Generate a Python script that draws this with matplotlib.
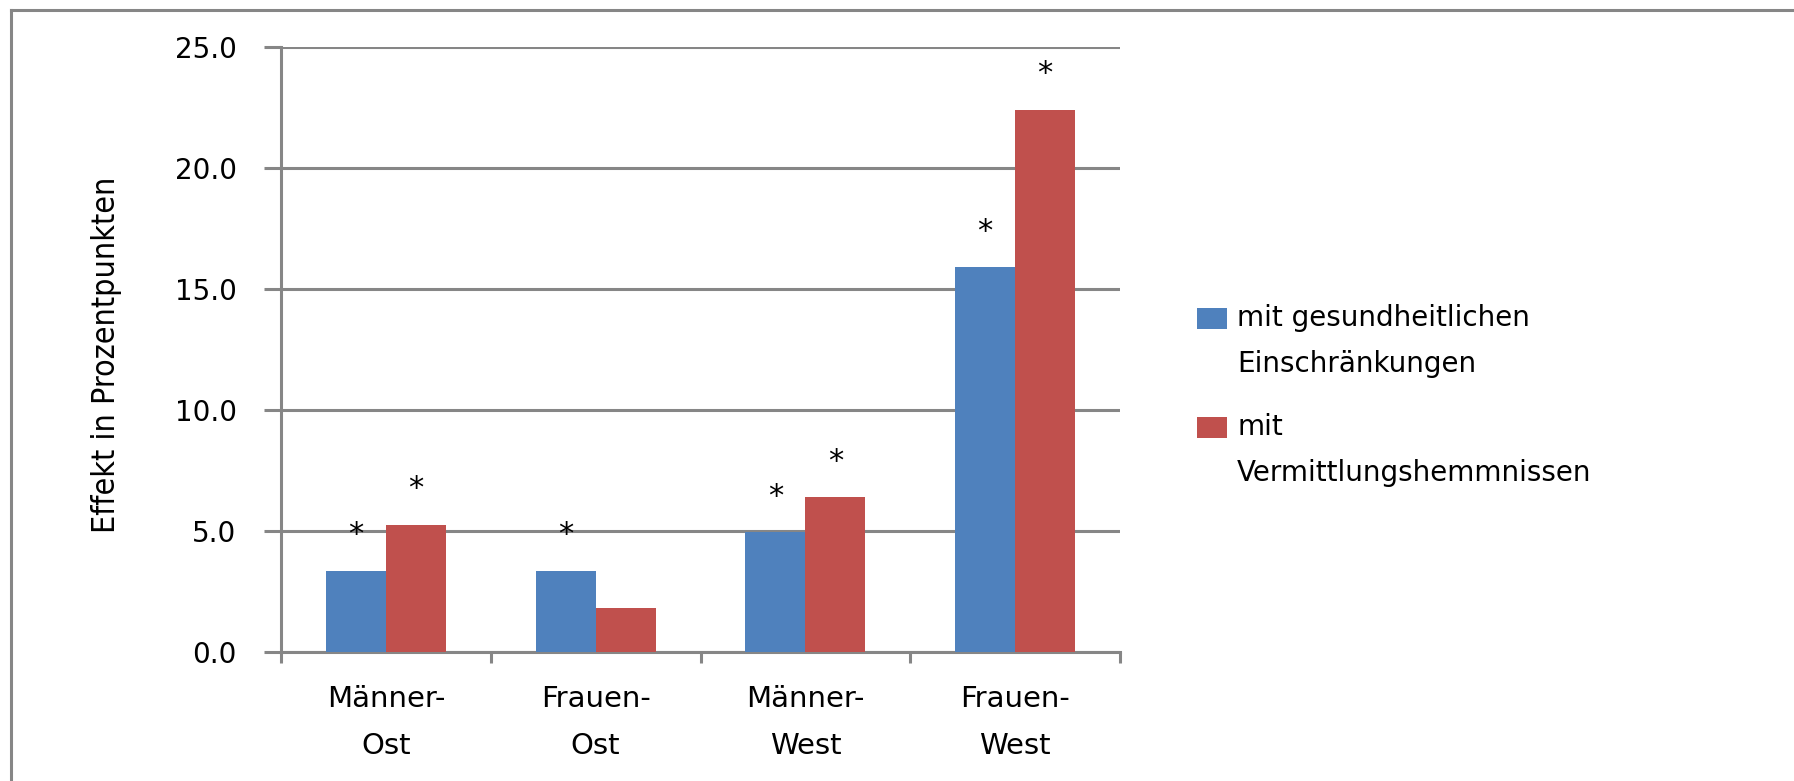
import matplotlib
matplotlib.use("Agg")
import matplotlib.pyplot as plt
from matplotlib import font_manager
from matplotlib.lines import Line2D
from matplotlib.patches import Rectangle
from matplotlib.container import BarContainer
from matplotlib.legend_handler import HandlerPatch, update_from_first_child
from matplotlib.ticker import FormatStrFormatter, FixedLocator
import numpy as np

categories = ["Männer-\nOst", "Frauen-\nOst", "Männer-\nWest", "Frauen-\nWest"]
series_names = ["mit gesundheitlichen\nEinschränkungen", "mit\nVermittlungshemmnissen"]
gesundheit = [3.35, 3.35, 4.95, 15.9]
vermittlung = [5.25, 1.8, 6.4, 22.4]
# significance markers (*)
sig_gesundheit = [True, True, True, True]
sig_vermittlung = [True, False, True, True]
ylabel = "Effekt in Prozentpunkten"

blue = "#4F81BD"
red = "#C0504D"
grey = "#868686"

plt.rcParams["font.family"] = ["DejaVu Sans"]

# condensed font for the y label, if one is around
cond = [f.fname for f in font_manager.fontManager.ttflist
        if "SansNarrow-Regular" in f.fname or f.fname.endswith("DejaVuSansCondensed.ttf")]
if cond:
    ylab_font = font_manager.FontProperties(fname=cond[0], size=23)
else:
    ylab_font = font_manager.FontProperties(family="DejaVu Sans", size=20)

fig = plt.figure(figsize=(17.94, 7.81), dpi=100)
ax = fig.add_axes([281 / 1794, 1 - 652 / 781, 839 / 1794, 605 / 781])

x = np.arange(len(categories))
w = 0.286
b1 = ax.bar(x - w / 2, gesundheit, w, color=blue, label=series_names[0], zorder=3)
b2 = ax.bar(x + w / 2, vermittlung, w, color=red, label=series_names[1], zorder=3)

for bars, vals, sig in [(b1, gesundheit, sig_gesundheit), (b2, vermittlung, sig_vermittlung)]:
    for rect, v, s in zip(bars, vals, sig):
        if s:
            ax.annotate("*", (rect.get_x() + rect.get_width() / 2, v), xytext=(0, 26),
                        textcoords="offset points", ha="center", va="center",
                        fontsize=22, zorder=4)

ax.set_xlim(-0.5, 3.5)
ax.set_ylim(0, 25)
ax.set_yticks(np.arange(0, 26, 5))
ax.yaxis.set_major_formatter(FormatStrFormatter("%.1f"))
ax.grid(axis="y", color=grey, linewidth=2.2, zorder=0)
ax.set_axisbelow(True)

ax.set_xticks(x)
ax.set_xticklabels(categories, fontsize=21, linespacing=1.88)
ax.xaxis.set_minor_locator(FixedLocator(np.arange(-0.5, 4, 1)))
ax.tick_params(axis="x", which="major", length=0, pad=23.5)
ax.tick_params(axis="x", which="minor", length=8, width=2.2, color=grey)
ax.tick_params(axis="y", length=12, width=2.2, color=grey, labelsize=20, pad=20)

for side in ["top", "right"]:
    ax.spines[side].set_visible(False)
for side in ["left", "bottom"]:
    ax.spines[side].set_color(grey)
    ax.spines[side].set_linewidth(2.2)

fig.text(107 / 1794, 1 - 355 / 781, ylabel, rotation=90, ha="center", va="center",
         fontproperties=ylab_font)


# legend key sits next to the first line of the label, not its middle
def top_patch(legend, orig_handle, xdescent, ydescent, width, height, fontsize):
    return Rectangle((-xdescent, -ydescent + 17), width, height)


leg = fig.legend(loc="upper left", bbox_to_anchor=(1197 / 1794, 1 - 304 / 781),
                 frameon=False, fontsize=20, borderpad=0, borderaxespad=0,
                 handlelength=1.08, handleheight=0.76, handletextpad=0.36,
                 labelspacing=1.25,
                 handler_map={BarContainer: HandlerPatch(patch_func=top_patch,
                                                         update_func=update_from_first_child)})
for t in leg.get_texts():
    t.set_linespacing(1.82)

# outer chart border (only top and left edges visible)
fig.add_artist(Line2D([11 / 1794, 1], [1 - 10 / 781, 1 - 10 / 781], color=grey, linewidth=2.2,
                      transform=fig.transFigure))
fig.add_artist(Line2D([11 / 1794, 11 / 1794], [0, 1 - 10 / 781], color=grey, linewidth=2.2,
                      transform=fig.transFigure))

fig.savefig("out.png", dpi=100)
